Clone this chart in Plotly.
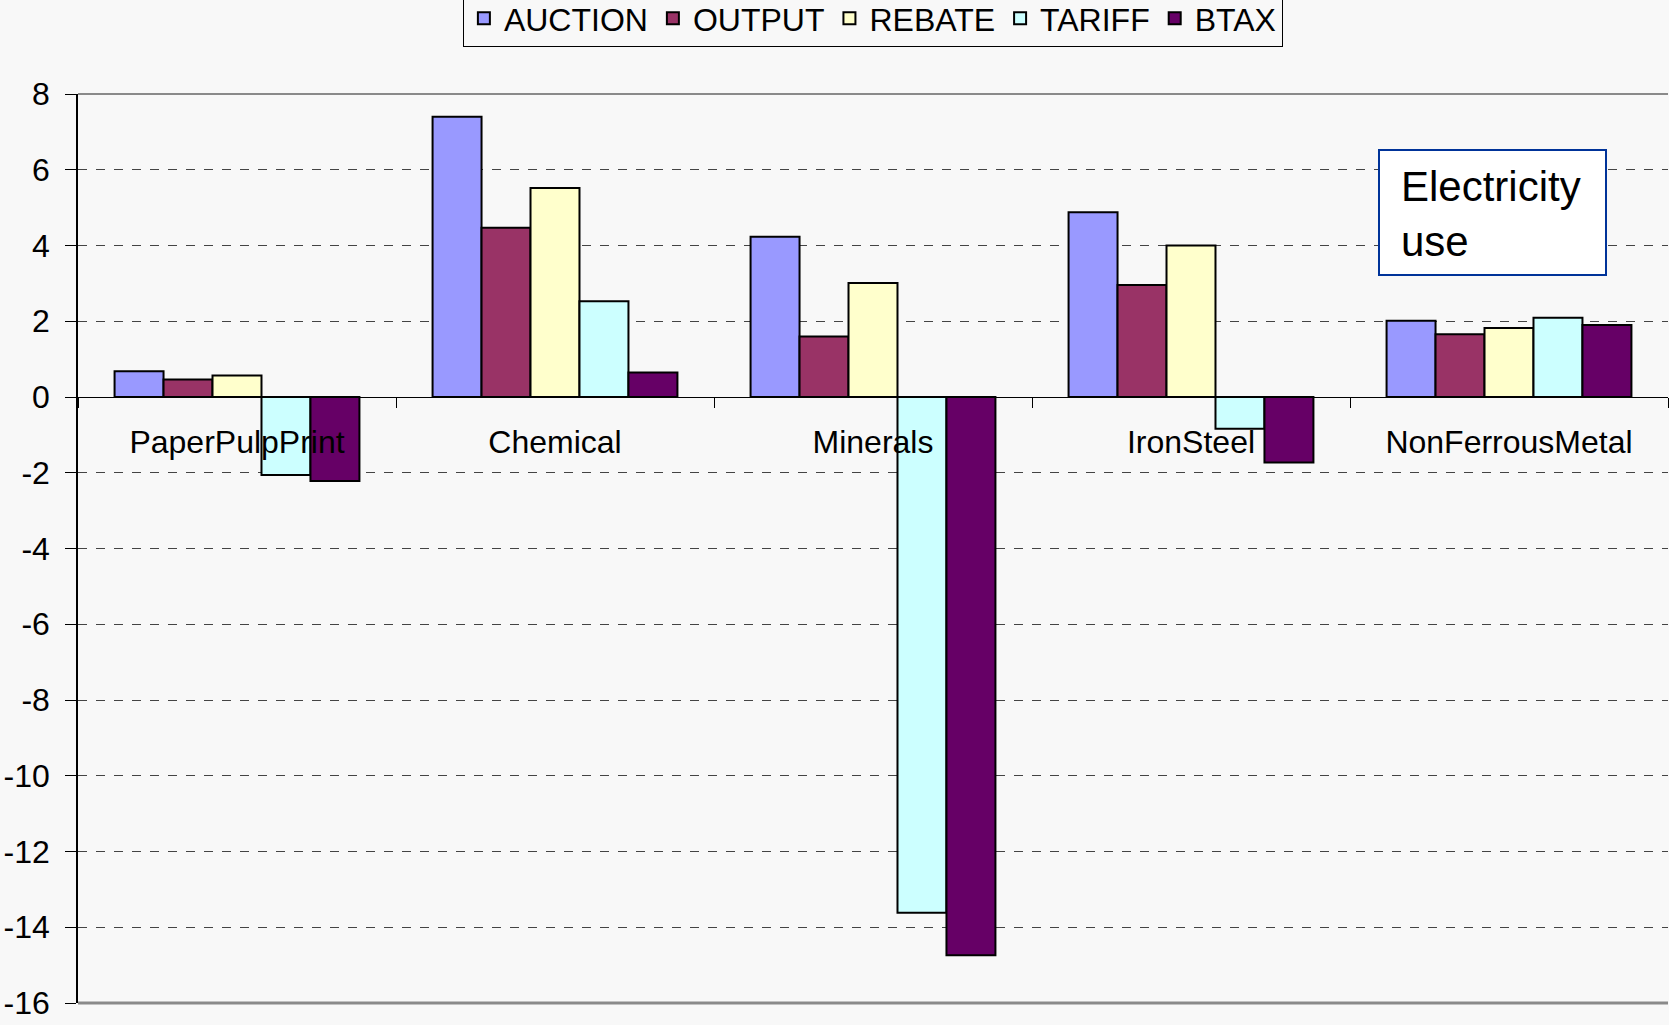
import plotly.graph_objects as go

categories = ["PaperPulpPrint", "Chemical", "Minerals", "IronSteel", "NonFerrousMetal"]
auction = [0.68, 7.40, 4.23, 4.88, 2.01]
output = [0.46, 4.47, 1.60, 2.96, 1.66]
rebate = [0.57, 5.52, 3.01, 4.00, 1.82]
tariff = [-2.06, 2.53, -13.62, -0.84, 2.09]
btax = [-2.22, 0.65, -14.74, -1.73, 1.90]
series_names = ["AUCTION", "OUTPUT", "REBATE", "TARIFF", "BTAX"]
series_values = [auction, output, rebate, tariff, btax]
colors = ["#9999FF", "#993366", "#FFFFCC", "#CCFFFF", "#660066"]
y_ticks = list(range(-16, 9, 2))

FONT = "Liberation Sans, Arial, sans-serif"
BG = "#f8f8f8"

fig = go.Figure()
for name, vals, col in zip(series_names, series_values, colors):
    fig.add_trace(go.Bar(
        name=name, x=categories, y=vals,
        marker=dict(color=col, line=dict(color="black", width=2)),
    ))

fig.update_layout(
    width=1669, height=1025,
    margin=dict(l=78, r=1, t=94, b=22, autoexpand=False),
    paper_bgcolor=BG, plot_bgcolor=BG,
    barmode="group", bargap=0.23, bargroupgap=0,
    font=dict(family=FONT, size=32, color="black"),
    showlegend=True,
    legend=dict(
        orientation="h", x=0.523, xref="container", xanchor="center",
        y=1 - 47 / 1025, yref="container", yanchor="bottom",
        bordercolor="black", borderwidth=1, bgcolor=BG,
        font=dict(family=FONT, size=32), itemwidth=30,
        tracegroupgap=0,
    ),
    xaxis=dict(
        anchor="free", position=16 / 24,
        showline=True, linecolor="black", linewidth=1,
        ticks="outside", tickson="boundaries", ticklen=10, tickcolor="black",
        tickfont=dict(family=FONT, size=32),
        ticklabelstandoff=17,
        showgrid=False, zeroline=False,
    ),
    yaxis=dict(
        range=[-16, 8], tickvals=y_ticks,
        ticktext=[str(v) for v in y_ticks],
        showline=True, linecolor="black", linewidth=1.5,
        ticks="outside", ticklen=11, tickcolor="black",
        tickfont=dict(family=FONT, size=32),
        ticklabelstandoff=9,
        showgrid=True, gridcolor="#444444", griddash="dash", gridwidth=1,
        zeroline=True, zerolinecolor="black", zerolinewidth=1,
    ),
)

# frame lines top and bottom
fig.add_shape(type="line", xref="paper", yref="paper", x0=0, x1=1, y0=1, y1=1,
              line=dict(color="#8a8a8a", width=2))
fig.add_shape(type="line", xref="paper", yref="paper", x0=0, x1=1, y0=0, y1=0,
              line=dict(color="#8a8a8a", width=3))

# text box
fig.add_shape(type="rect", xref="paper", yref="paper",
              x0=(1379 - 78) / 1590, x1=(1606 - 78) / 1590,
              y0=1 - (275 - 94) / 909, y1=1 - (150 - 94) / 909,
              line=dict(color="#003399", width=2), fillcolor="white", layer="above")
fig.add_annotation(
    xref="paper", yref="paper", x=(1399 - 78) / 1590, y=1 - (214 - 94) / 909,
    xanchor="left", yanchor="middle",
    text="Electricity<br>use", align="left", showarrow=False,
    font=dict(family=FONT, size=42, color="black"),
)

fig.write_html("out.html", config={"displayModeBar": False},
               post_script="document.body.style.margin='0';document.body.style.background='%s';" % BG)
